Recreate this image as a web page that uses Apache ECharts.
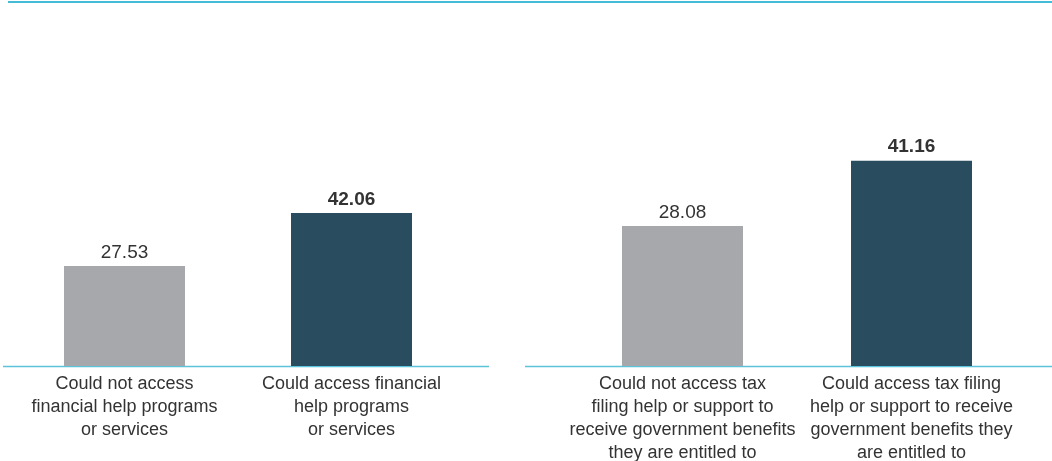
<!DOCTYPE html>
<html>
<head>
<meta charset="utf-8">
<script src="https://cdn.jsdelivr.net/npm/echarts@6/dist/echarts.min.js"></script>
<style>
html,body{margin:0;padding:0;background:#fff;}
#chart{width:1052px;height:461px;}
</style>
</head>
<body>
<div id="chart"></div>
<script>
const leftCategories = [
  'Could not access\nfinancial help programs\nor services',
  'Could access financial\nhelp programs\nor services'
];
const leftValues = [27.53, 42.06];
const rightCategories = [
  'Could not access tax\nfiling help or support to\nreceive government benefits\nthey are entitled to',
  'Could access tax filing\nhelp or support to receive\ngovernment benefits they\nare entitled to'
];
const rightValues = [28.08, 41.16];
const barColors = ['#a7a8ac', '#294d5e'];

const chart = echarts.init(document.getElementById('chart'), null, {renderer: 'canvas'});
const FONT = '"Liberation Sans", Arial, Helvetica, sans-serif';

function makeData(vals) {
  return vals.map((v, i) => ({
    value: v,
    itemStyle: {color: barColors[i]},
    label: {fontWeight: i === 1 ? 'bold' : 'normal'}
  }));
}

const catAxis = (idx, cats) => ({
  type: 'category',
  gridIndex: idx,
  data: cats,
  axisLine: {show: false},
  axisTick: {show: false},
  axisLabel: {
    interval: 0,
    margin: 7,
    color: '#333333',
    fontSize: 18,
    lineHeight: 23,
    fontFamily: FONT,
    align: 'center'
  }
});

const valAxis = (idx, max) => ({
  type: 'value',
  gridIndex: idx,
  min: 0,
  max: max,
  show: false,
  splitLine: {show: false}
});

const labelCfg = {
  show: true,
  position: 'top',
  distance: 4,
  color: '#333333',
  fontSize: 19,
  fontFamily: FONT,
  formatter: p => p.value.toFixed(2)
};

chart.setOption({
  animation: false,
  backgroundColor: '#ffffff',
  grid: [
    {left: 11, width: 454, top: 2.5, height: 363.5, containLabel: false, outerBoundsMode: 'none'},
    {left: 568, width: 458, top: 2, height: 364, containLabel: false, outerBoundsMode: 'none'}
  ],
  xAxis: [catAxis(0, leftCategories), catAxis(1, rightCategories)],
  yAxis: [valAxis(0, 100), valAxis(1, 73)],
  series: [
    {type: 'bar', xAxisIndex: 0, yAxisIndex: 0, barWidth: 121, data: makeData(leftValues), label: labelCfg},
    {type: 'bar', xAxisIndex: 1, yAxisIndex: 1, barWidth: 121, data: makeData(rightValues), label: labelCfg}
  ],
  graphic: [
    {type: 'line', shape: {x1: 8, y1: 2, x2: 1052, y2: 2}, style: {stroke: '#44bcd6', lineWidth: 2}, silent: true},
    {type: 'line', shape: {x1: 3, y1: 366.5, x2: 489, y2: 366.5}, style: {stroke: '#5cc4da', lineWidth: 1.5}, silent: true},
    {type: 'line', shape: {x1: 525, y1: 366.5, x2: 1052, y2: 366.5}, style: {stroke: '#5cc4da', lineWidth: 1.5}, silent: true}
  ]
});
</script>
</body>
</html>
